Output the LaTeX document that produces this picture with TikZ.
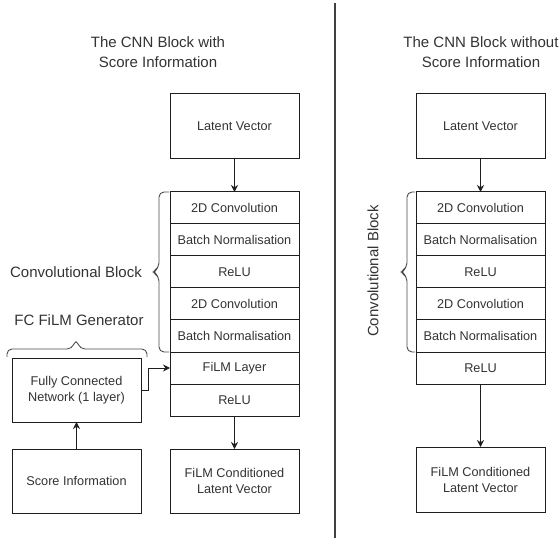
\documentclass[tikz,border=0pt]{standalone}
\usepackage{fontspec}
\setmainfont{Liberation Sans}
\usetikzlibrary{arrows.meta}
\definecolor{txt}{HTML}{333333}
\definecolor{ln}{HTML}{1E1E1E}
\begin{document}
\begin{tikzpicture}[x=1pt,y=-1pt,
  box/.style={draw=ln, line width=1pt, fill=white, minimum width=129pt, minimum height=64pt, inner sep=0pt, outer sep=0pt, align=center, text=txt, font=\fontsize{12.7}{16}\selectfont},
  layer/.style={box, minimum height=32pt},
  lbl/.style={text=txt, font=\fontsize{15}{20}\selectfont, align=center, inner sep=0pt},
  arr/.style={draw=ln, line width=1pt, -{Stealth[length=7pt,width=7pt]}},
  brc/.style={draw=ln!80, line width=0.9pt, rounded corners=5pt}
]
\useasboundingbox (0,0) rectangle (560,540);

% divider
\draw[draw=ln!85, line width=1.4pt] (335,3) -- (335,538);

% titles
\node[lbl] (t1) at (158,52) {The CNN Block with\\Score Information};
\node[lbl] (t2) at (481,52) {The CNN Block without\\Score Information};

% ---------- left column ----------
\node[box, minimum height=65pt] (lv1) at (234.5,126.5) {Latent Vector};
\node[layer] (c1a) at (234.5,208) {2D Convolution};
\node[layer] (b1a) at (234.5,240) {Batch Normalisation};
\node[layer] (r1a) at (234.5,272) {ReLU};
\node[layer] (c1b) at (234.5,304) {2D Convolution};
\node[layer] (b1b) at (234.5,336) {Batch Normalisation};
\node[layer] (film) at (234.5,368) {FiLM Layer};
\node[layer] (r1b) at (234.5,400) {ReLU};
\node[box] (out1) at (234.5,481) {FiLM Conditioned\\Latent Vector};
\node[box] (fc) at (76.5,390) {Fully Connected\\Network (1 layer)};
\node[box] (score) at (76.5,481) {Score Information};

\node[lbl] (cb1) at (76,272) {Convolutional Block};
\node[lbl] (fcg) at (79,320) {FC FiLM Generator};

\draw[brc] (169,192) -- (159,192) -- (159,268) -- (152,272) -- (159,276) -- (159,352) -- (169,352);
\draw[brc] (7,357) -- (7,349) -- (72,349) -- (76,339) -- (80,349) -- (147,349) -- (147,357);

\draw[arr] (lv1.south) -- (c1a.north);
\draw[arr] (r1b.south) -- (out1.north);
\draw[arr] (score.north) -- (fc.south);
\draw[arr] (fc.east) -- ++(7,0) |- (film.west);

% ---------- right column ----------
\node[box, minimum height=65pt] (lv2) at (480.5,126.5) {Latent Vector};
\node[layer] (c2a) at (480.5,208) {2D Convolution};
\node[layer] (b2a) at (480.5,240) {Batch Normalisation};
\node[layer] (r2a) at (480.5,272) {ReLU};
\node[layer] (c2b) at (480.5,304) {2D Convolution};
\node[layer] (b2b) at (480.5,336) {Batch Normalisation};
\node[layer] (r2b) at (480.5,368) {ReLU};
\node[box, minimum height=65pt] (out2) at (480.5,479.5) {FiLM Conditioned\\Latent Vector};

\node[lbl, rotate=90] (cb2) at (373,271) {Convolutional Block};
\draw[brc] (415,192) -- (407,192) -- (407,268) -- (400,272) -- (407,276) -- (407,352) -- (415,352);

\draw[arr] (lv2.south) -- (c2a.north);
\draw[arr] (r2b.south) -- (out2.north);
\end{tikzpicture}
\end{document}
